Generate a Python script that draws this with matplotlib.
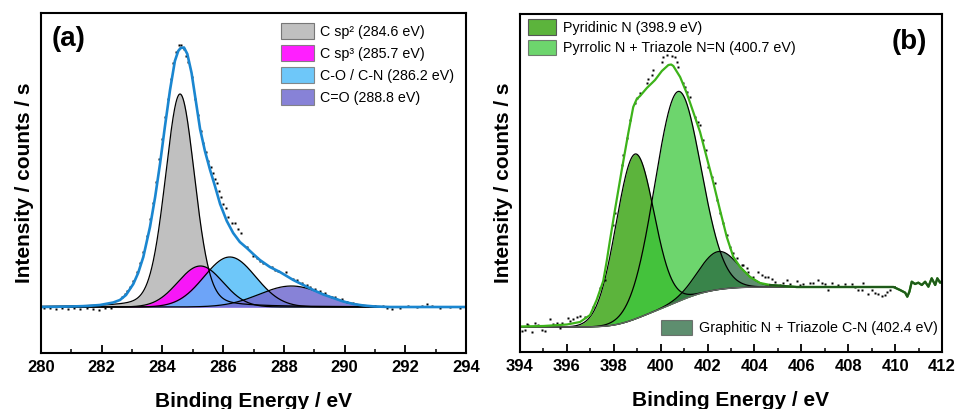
import numpy as np
import matplotlib
matplotlib.use('Agg')
import matplotlib.pyplot as plt
from matplotlib.patches import Patch
from matplotlib.ticker import MultipleLocator

plt.rcParams['font.family'] = ['Liberation Sans', 'DejaVu Sans']

# ---------------- panel (a): C 1s ----------------
c1s_labels = ['C sp² (284.6 eV)', 'C sp³ (285.7 eV)', 'C-O / C-N (286.2 eV)', 'C=O (288.8 eV)']
c1s_centers = [284.58, 285.25, 286.22, 288.25]
c1s_heights = [213, 41, 50, 21]
c1s_fwhm = [1.15, 1.75, 2.0, 2.5]
c1s_eta = [0.2, 0.0, 0.0, 0.0]
c1s_colors = ['#c0c0c0', '#ff00ff', '#55beF9', '#726cd0']
c1s_alpha = [1.0, 0.88, 0.85, 0.85]

c1s_env_be = [280.0, 281.0, 281.5, 281.94, 282.38, 282.6, 282.8, 283.04, 283.2, 283.37,
              283.59, 283.76, 283.92, 284.08, 284.25, 284.41, 284.52, 284.6, 284.71, 284.82,
              284.96, 285.07, 285.24, 285.40, 285.57, 285.73, 285.90, 286.12, 286.33, 286.55,
              286.78, 286.99, 287.21, 287.54, 287.87, 288.09, 288.31, 288.64, 288.97, 289.30,
              289.63, 289.96, 290.29, 290.62, 291.0, 291.5, 294.0]
c1s_env_int = [0, 0.5, 1, 2, 4.5, 7, 12, 23, 34, 50,
               80, 110, 143, 180, 217, 246, 256, 259, 259.5, 253,
               234, 212, 178, 156, 137, 121, 103, 86, 74, 65,
               59, 53, 47, 40, 35, 31, 27, 22, 17, 12.5,
               9, 5.5, 3, 1.5, 0.5, 0, 0]

c1s_data_be = [280.1, 280.3, 280.5, 280.7, 280.9, 281.1, 281.3, 281.5, 281.7, 281.9, 282.1, 282.3,
               282.66, 282.77, 282.84, 282.93, 283.04, 283.15, 283.26, 283.36, 283.48, 283.59,
               283.68, 283.79, 283.89, 283.98, 284.08, 284.17, 284.27, 284.36, 284.45, 284.53,
               284.62, 284.70, 284.78, 284.85, 284.96, 285.07, 285.16, 285.26, 285.35, 285.43,
               285.51, 285.59, 285.66, 285.73, 285.79, 285.86, 285.92, 286.00, 286.09, 286.17,
               286.28, 286.39, 286.50, 286.58, 286.78, 286.99, 287.10, 287.21, 287.32, 287.60,
               287.71, 287.82, 288.07, 288.29, 288.42, 288.59, 288.75, 288.86, 289.03, 289.19,
               289.35, 289.58, 289.68, 289.91, 290.07, 290.29, 290.51, 290.78, 291.00, 291.28,
               291.39, 291.55, 291.83, 292.10, 292.38, 292.54, 292.71, 292.87, 293.14, 293.47,
               293.80]
c1s_data_int = [-1, -0.5, -1.5, -1, -2, -1, -1.5, -1, -2, -2.5, -1, -0.5,
                10, 13, 16, 20, 26, 35, 44, 55, 71, 88,
                104, 125, 148, 168, 190, 208, 228, 244, 255, 262,
                262, 258, 251, 245, 230, 208, 192, 176, 164, 155,
                146, 140, 134, 128, 124, 116, 110, 103, 99, 90,
                84, 84, 78, 74, 60, 51, 49, 46, 44, 40,
                37, 36, 35, 28, 27, 24, 22, 20, 18, 16,
                14, 10, 10, 8, 5, 4, 2, 1, 1.5, 1.3,
                -1, -2, -1, 1, 0.3, 1, 3, 1, -0.7, 0.3,
                -1]

# ---------------- panel (b): N 1s ----------------
n1s_labels = ['Pyridinic N (398.9 eV)', 'Pyrrolic N + Triazole N=N (400.7 eV)',
              'Graphitic N + Triazole C-N (402.4 eV)']
n1s_centers = [398.9, 400.73, 402.46]
n1s_heights = [165, 210, 38]
n1s_fwhm = [1.9, 2.3, 2.0]
n1s_bg_low = 0.0
n1s_bg_high = 40.0
n1s_colors = ['#5cb43c', '#3cc83c', '#28693f']
n1s_alpha = [1.0, 0.75, 0.75]

n1s_env_be = [394.0, 395.0, 396.0, 396.56, 396.99, 397.27, 397.55, 397.70, 397.84, 398.05,
              398.34, 398.62, 398.83, 398.98, 399.12, 399.41, 399.76, 400.05, 400.33, 400.45,
              400.54, 400.83, 401.11, 401.39, 401.68, 401.96, 402.25, 402.53, 402.82, 403.10,
              403.39, 403.81, 404.24, 404.67, 405.80, 407.94, 409.93, 410.21, 410.43, 410.52,
              410.61, 410.71, 410.85, 410.99, 411.14, 411.28, 411.42, 411.56, 411.71, 411.80,
              411.92, 412.0]
n1s_env_int = [0.5, 1, 2.5, 5, 12, 27, 46, 66, 87, 117,
               157, 194, 220, 228, 231, 239, 247, 256, 262, 262.5,
               261, 250, 234, 215, 195, 170, 144, 117, 90, 70,
               60, 50, 44, 42, 40, 40, 40, 37, 34.3, 30.3,
               35.3, 45.3, 43, 44.3, 42, 45.3, 40.3, 48.7, 42, 48.7,
               44.3, 46]

n1s_data_be = [394.07, 394.21, 394.29, 394.35, 394.50, 394.64, 394.78, 394.93, 395.07, 395.28,
               395.42, 395.57, 395.71, 395.78, 396.06, 396.13, 396.27, 396.42, 396.56, 396.77,
               397.13, 397.41, 397.63, 397.95, 398.05, 398.34, 398.41, 398.55, 398.69, 398.91,
               398.98, 399.12, 399.41, 399.48, 399.62, 399.69, 400.05, 400.11, 400.26, 400.47,
               400.61, 400.69, 400.76, 400.97, 401.04, 401.14, 401.25, 401.47, 401.61, 401.68,
               401.82, 401.94, 402.03, 402.18, 402.32, 402.42, 402.53, 402.67, 402.82, 402.96,
               403.10, 403.24, 403.46, 403.53, 403.67, 403.74, 403.95, 404.17, 404.31, 404.45,
               404.59, 404.74, 404.88, 405.09, 405.23, 405.38, 405.52, 405.80, 405.95, 406.09,
               406.37, 406.51, 406.73, 406.87, 407.01, 407.15, 407.30, 407.58, 407.87, 408.15,
               408.29, 408.43, 408.58, 408.65, 408.86, 409.00, 409.15, 409.29, 409.43, 409.57,
               409.64, 409.78]
n1s_data_int = [-3.7, -3, 2.7, 2, -4.7, 4.3, 2, -3, -4, 7.7,
                2.7, 3.7, -1.3, 4.3, 8.7, 6.3, 7.7, 10.3, 11.3, 9.7,
                20.3, 38.7, 47, 102, 113.7, 162, 172, 188.7, 207, 223.7,
                228.7, 234.3, 243.7, 247.7, 252, 257, 265.3, 269.7, 272, 271,
                269.7, 265.3, 260.3, 243.7, 240.3, 235.3, 230.3, 210.3, 205.3, 202,
                187, 177, 160.3, 150.3, 143.7, 127, 113.7, 103.7, 92, 80.3,
                73.7, 68.7, 62, 62, 58.7, 55.3, 50.3, 55.3, 52, 50.3,
                49.7, 47.7, 45.3, 42, 44.3, 47, 43, 46.3, 42, 43,
                44.3, 43.7, 47, 44.3, 43, 37, 43.7, 42, 43, 43,
                39.7, 37, 37, 43.7, 33, 37, 33.7, 33, 31, 32,
                35.3, 37]


def peak(x, center, height, fwhm, eta=0.0):
    d = (x - center) / fwhm
    g = np.exp(-4 * np.log(2) * d ** 2)
    lor = 1.0 / (1.0 + 4 * d ** 2)
    return height * ((1 - eta) * g + eta * lor)


fig = plt.figure(figsize=(9.59, 4.09), dpi=100)
ax1 = fig.add_axes([41 / 959, 1 - 353 / 409, 425 / 959, 340 / 409])
ax2 = fig.add_axes([520 / 959, 1 - 352 / 409, 422 / 959, 338 / 409])

# ----- panel (a)
xa = np.linspace(280, 294, 1401)
handles_a = []
for lab, c, h, w, e, col, al in zip(c1s_labels, c1s_centers, c1s_heights, c1s_fwhm,
                                     c1s_eta, c1s_colors, c1s_alpha):
    y = peak(xa, c, h, w, e)
    ax1.fill_between(xa, 0, y, color=col, alpha=al, lw=0)
    ax1.plot(xa, y, color='k', lw=0.9)
    handles_a.append(Patch(facecolor=col, alpha=al, edgecolor='#777777', lw=0.8, label=lab))
ax1.plot(c1s_data_be, c1s_data_int, ls='none', marker='s', ms=2.0, color='k', mec='none')
ax1.plot(c1s_env_be, c1s_env_int, color='#1a86d0', lw=1.9)

ax1.set_xlim(280, 294)
ax1.set_ylim(-46, 294)
ax1.text(0.026, 0.963, '(a)', transform=ax1.transAxes, fontsize=20, fontweight='bold',
         va='top', ha='left')
ax1.legend(handles=handles_a, loc='upper left', bbox_to_anchor=(0.565, 0.97),
           frameon=False, fontsize=10.3, handlelength=2.3, handleheight=1.3,
           handletextpad=0.45, labelspacing=0.45, borderpad=0, borderaxespad=0)

# ----- panel (b)
xb = np.linspace(394, 410, 1601)
comps = [peak(xb, c, h, w) for c, h, w in zip(n1s_centers, n1s_heights, n1s_fwhm)]
total = np.sum(comps, axis=0)
cum = np.cumsum(total)
bg = n1s_bg_low + (n1s_bg_high - n1s_bg_low) * cum / cum[-1]
handles_b = []
for lab, y, col, al in zip(n1s_labels, comps, n1s_colors, n1s_alpha):
    ax2.fill_between(xb, bg, bg + y, color=col, alpha=al, lw=0)
    ax2.plot(xb, bg + y, color='k', lw=0.9)
    handles_b.append(Patch(facecolor=col, alpha=al, edgecolor='#555555', lw=0.8, label=lab))
ax2.plot(xb, bg, color='#666666', lw=1.0)
ax2.plot(n1s_data_be, n1s_data_int, ls='none', marker='s', ms=2.0, color='k', mec='none')
env_be = np.array(n1s_env_be)
env_int = np.array(n1s_env_int)
ax2.plot(env_be, env_int, color='#3db31a', lw=1.6)
m = env_be >= 404.67
ax2.plot(env_be[m], env_int[m], color='#1f5a1a', lw=1.6)

ax2.set_xlim(394, 412)
ax2.set_ylim(-25, 313)
ax2.text(0.964, 0.955, '(b)', transform=ax2.transAxes, fontsize=20, fontweight='bold',
         va='top', ha='right')
leg1 = ax2.legend(handles=handles_b[:2], loc='upper left', bbox_to_anchor=(0.018, 0.985),
                  frameon=False, fontsize=10.3, handlelength=2.0, handleheight=1.3,
                  handletextpad=0.45, labelspacing=0.35, borderpad=0, borderaxespad=0)
ax2.add_artist(leg1)
ax2.legend(handles=handles_b[2:], loc='lower right', bbox_to_anchor=(0.99, 0.05),
           frameon=False, fontsize=10.3, handlelength=2.2, handleheight=1.3,
           handletextpad=0.45, borderpad=0, borderaxespad=0)

for ax in (ax1, ax2):
    ax.xaxis.set_major_locator(MultipleLocator(2))
    ax.xaxis.set_minor_locator(MultipleLocator(1))
    ax.tick_params(axis='x', which='major', direction='in', length=6, width=1.3,
                   labelsize=12, pad=5, top=False)
    ax.tick_params(axis='x', which='minor', direction='in', length=3, width=1.1, top=False)
    ax.tick_params(axis='y', left=False, labelleft=False)
    for lbl in ax.get_xticklabels():
        lbl.set_fontweight('bold')
    for s in ax.spines.values():
        s.set_linewidth(1.5)
    ax.set_xlabel('Binding Energy / eV', fontsize=15, fontweight='bold', labelpad=12)
    ax.set_ylabel('Intensity / counts / s', fontsize=15, fontweight='bold', labelpad=5)

fig.savefig('out.png', dpi=100)
